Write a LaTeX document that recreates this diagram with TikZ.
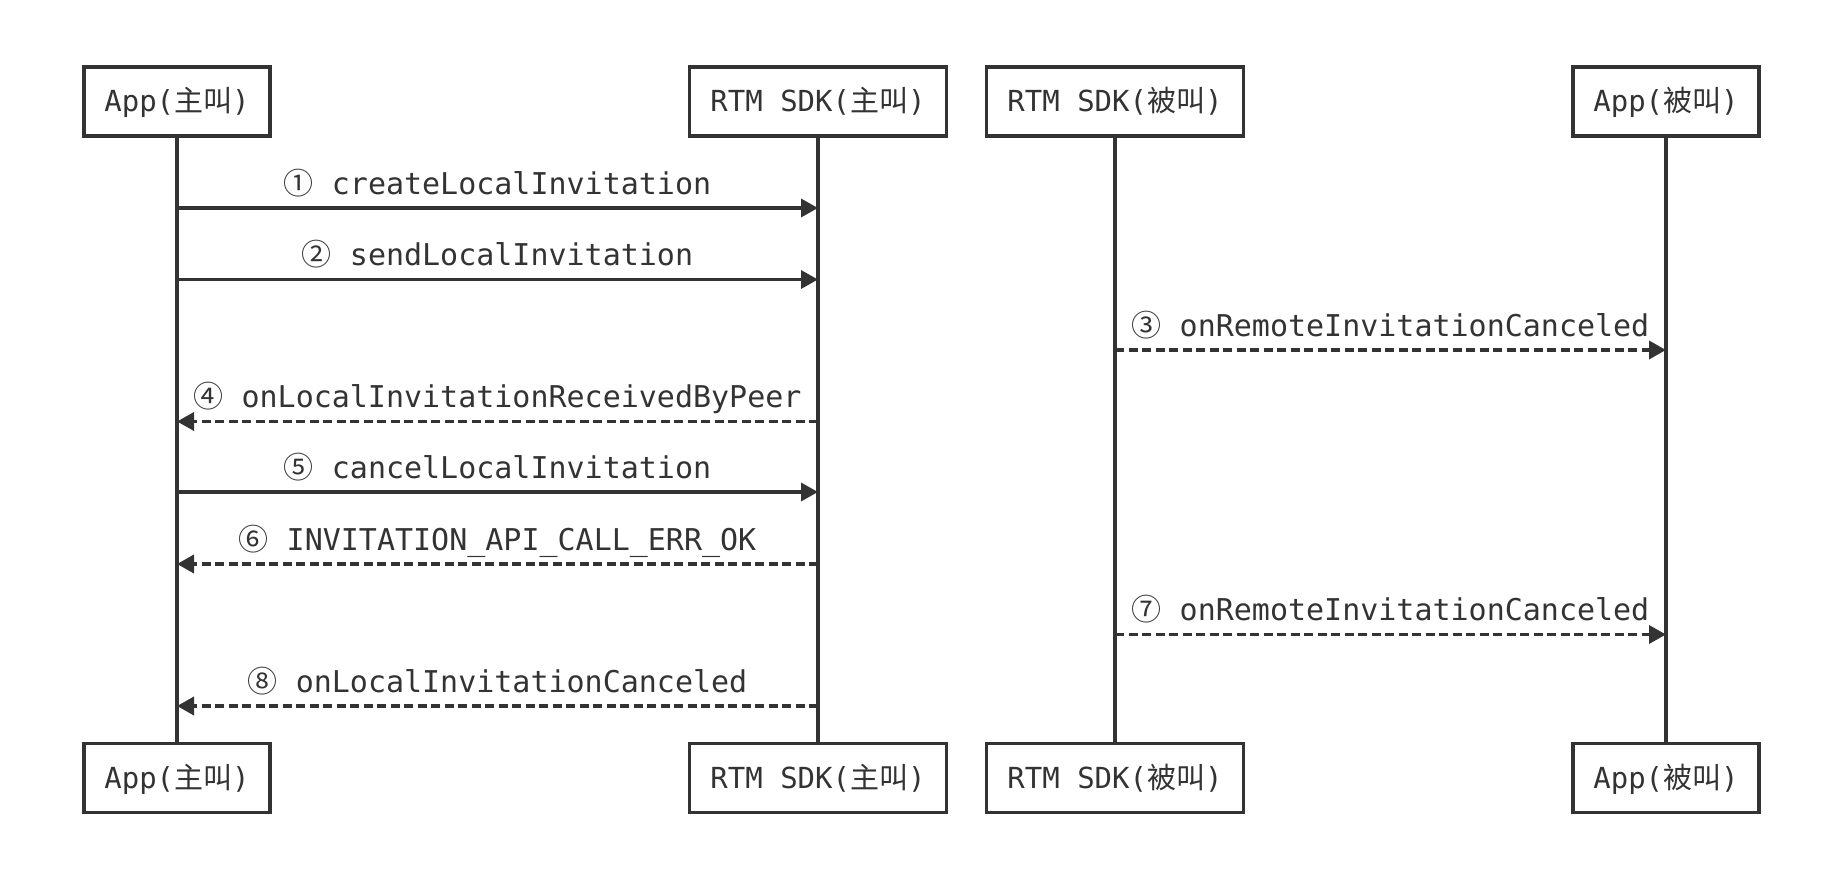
\documentclass[tikz,border=0pt]{standalone}
\usepackage{fontspec}
\setmainfont{DejaVu Sans Mono}
\newfontfamily\cjk{Noto Sans CJK SC}
\newfontfamily\circfont{Noto Sans CJK SC}
\usetikzlibrary{arrows.meta}
\definecolor{ink}{HTML}{333333}
\begin{document}
\begin{tikzpicture}[x=1pt,y=-1pt,
  actor/.style={draw=ink, line width=3.5pt, fill=white, minimum height=69pt, text=ink,
    font=\fontsize{29}{34}\selectfont, inner sep=0pt, text height=21pt, text depth=0pt},
  appbox/.style={actor, minimum width=186pt},
  sdkbox/.style={actor, minimum width=257pt},
  life/.style={draw=ink, line width=3.5pt},
  msg/.style={draw=ink, line width=3.5pt, -{Triangle[length=17pt,width=18pt]}},
  reply/.style={msg, dash pattern=on 9pt off 4.5pt},
  lbl/.style={text=ink, font=\fontsize{30}{36}\selectfont, inner sep=0pt,
    text height=22pt, text depth=0pt, midway, above=12pt}]
\useasboundingbox (0,0) rectangle (1842,880);

% actors top
\node[appbox] (A1) at (177,101.5) {App({\cjk 主叫})};
\node[sdkbox] (S1) at (818,101.5) {RTM SDK({\cjk 主叫})};
\node[sdkbox] (R1) at (1115,101.5) {RTM SDK({\cjk 被叫})};
\node[appbox] (B1) at (1666,101.5) {App({\cjk 被叫})};
% actors bottom
\node[appbox] (A2) at (177,778) {App({\cjk 主叫})};
\node[sdkbox] (S2) at (818,778) {RTM SDK({\cjk 主叫})};
\node[sdkbox] (R2) at (1115,778) {RTM SDK({\cjk 被叫})};
\node[appbox] (B2) at (1666,778) {App({\cjk 被叫})};

% lifelines
\draw[life] (A1.south) -- (A2.north);
\draw[life] (S1.south) -- (S2.north);
\draw[life] (R1.south) -- (R2.north);
\draw[life] (B1.south) -- (B2.north);

% message rows
\coordinate (y1) at (0,208);
\coordinate (y2) at (0,279.5);
\coordinate (y3) at (0,350);
\coordinate (y4) at (0,421.5);
\coordinate (y5) at (0,492);
\coordinate (y6) at (0,564);
\coordinate (y7) at (0,634.5);
\coordinate (y8) at (0,706);

\draw[msg] (A1.south |- y1) -- node[lbl] {{\circfont ①} createLocalInvitation} (S1.south |- y1);
\draw[msg] (A1.south |- y2) -- node[lbl] {{\circfont ②} sendLocalInvitation} (S1.south |- y2);
\draw[reply] (R1.south |- y3) -- node[lbl] {{\circfont ③} onRemoteInvitationCanceled} (B1.south |- y3);
\draw[reply] (S1.south |- y4) -- node[lbl] {{\circfont ④} onLocalInvitationReceivedByPeer} (A1.south |- y4);
\draw[msg] (A1.south |- y5) -- node[lbl] {{\circfont ⑤} cancelLocalInvitation} (S1.south |- y5);
\draw[reply] (S1.south |- y6) -- node[lbl] {{\circfont ⑥} INVITATION\_API\_CALL\_ERR\_OK} (A1.south |- y6);
\draw[reply] (R1.south |- y7) -- node[lbl] {{\circfont ⑦} onRemoteInvitationCanceled} (B1.south |- y7);
\draw[reply] (S1.south |- y8) -- node[lbl] {{\circfont ⑧} onLocalInvitationCanceled} (A1.south |- y8);
\end{tikzpicture}
\end{document}
